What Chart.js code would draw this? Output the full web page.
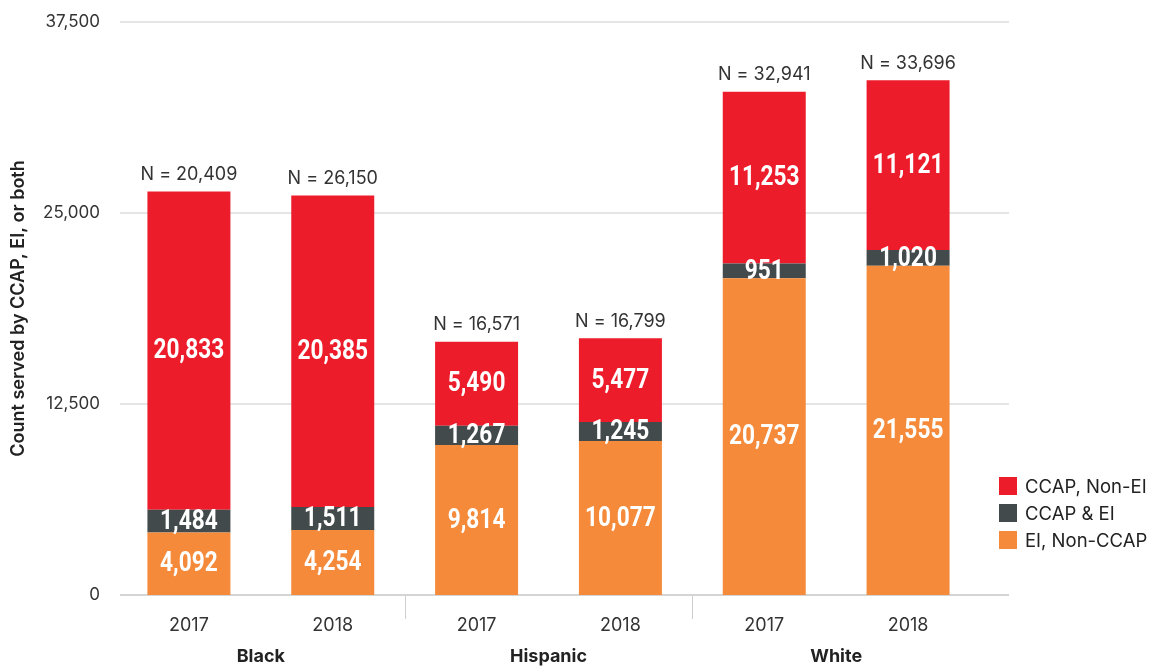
<!DOCTYPE html>
<html>
<head>
<meta charset="utf-8">
<script src="https://cdn.jsdelivr.net/npm/chart.js@4/dist/chart.umd.min.js"></script>
<style>
  html, body { margin: 0; padding: 0; background: #fff; }
  #wrap { position: relative; width: 1158px; height: 667px; }
  #legend { position: absolute; left: 999px; top: 472px; font-family: Inter, "Noto Sans", sans-serif; font-size: 18.5px; color: #222; }
  .li { display: flex; align-items: center; height: 27px; }
  .sw { width: 18px; height: 18px; margin-right: 8px; flex: none; }
</style>
</head>
<body>
<div id="wrap">
  <canvas id="c" width="1158" height="667"></canvas>
  <div id="legend"></div>
</div>
<script>
const categories = ['2017', '2018', '2017', '2018', '2017', '2018'];
const groups = ['Black', 'Hispanic', 'White'];
const eiNonCcap = [4092, 4254, 9814, 10077, 20737, 21555];
const ccapEi = [1484, 1511, 1267, 1245, 951, 1020];
const ccapNonEi = [20833, 20385, 5490, 5477, 11253, 11121];
const nLabels = ['N = 20,409', 'N = 26,150', 'N = 16,571', 'N = 16,799', 'N = 32,941', 'N = 33,696'];
const yTicks = [0, 12500, 25000, 37500];
const seriesNames = ['EI, Non-CCAP', 'CCAP & EI', 'CCAP, Non-EI'];
const seriesColors = ['#F48A3A', '#434A4C', '#ED1C2B'];

const FONT = 'Inter, "Noto Sans", sans-serif';
const COND = 'Roboto, "DejaVu Sans Condensed", sans-serif';
const fmt = v => v.toLocaleString('en-US');

const gridPlugin = {
  id: 'grid',
  beforeDatasetsDraw(chart) {
    const ctx = chart.ctx, y = chart.scales.y, x = chart.scales.x, a = chart.chartArea;
    ctx.save();
    yTicks.forEach(v => {
      const py = y.getPixelForValue(v);
      ctx.beginPath();
      ctx.strokeStyle = v === 0 ? '#d4d4d4' : '#dcdcdc';
      ctx.lineWidth = v === 0 ? 2 : 1.5;
      ctx.moveTo(a.left + 3, py);
      ctx.lineTo(a.right + 29, py);
      ctx.stroke();
    });
    ctx.strokeStyle = '#cfcfcf';
    ctx.lineWidth = 1;
    for (let g = 1; g < groups.length; g++) {
      const px = Math.round((x.getPixelForValue(2 * g - 1) + x.getPixelForValue(2 * g)) / 2) + 0.5;
      ctx.beginPath();
      ctx.moveTo(px, a.bottom + 1);
      ctx.lineTo(px, a.bottom + 24);
      ctx.stroke();
    }
    ctx.restore();
  },
  afterDraw(chart) {
    const ctx = chart.ctx, x = chart.scales.x, a = chart.chartArea;
    ctx.save();
    ctx.textAlign = 'center';
    ctx.textBaseline = 'middle';
    // group labels
    ctx.font = 'bold 18px ' + FONT;
    ctx.fillStyle = '#222';
    groups.forEach((g, i) => {
      const px = (x.getPixelForValue(2 * i) + x.getPixelForValue(2 * i + 1)) / 2;
      ctx.fillText(g, px, a.bottom + 62);
    });
    // value labels (condensed)
    ctx.font = 'bold 27px ' + COND;
    ctx.fillStyle = '#fff';
    const sx = 0.84;
    chart.data.datasets.forEach((ds, di) => {
      const meta = chart.getDatasetMeta(di);
      meta.data.forEach((el, i) => {
        const p = el.getProps(['x', 'y', 'base'], true);
        ctx.save();
        ctx.translate(p.x, (p.y + p.base) / 2 + 1);
        ctx.scale(sx, 1);
        ctx.fillText(fmt(ds.data[i]), 0, 0);
        ctx.restore();
      });
    });
    // N labels
    const top = chart.getDatasetMeta(chart.data.datasets.length - 1);
    ctx.font = '18px ' + FONT;
    ctx.fillStyle = '#333';
    top.data.forEach((el, i) => {
      const p = el.getProps(['x', 'y'], true);
      ctx.fillText(nLabels[i], p.x, p.y - 17);
    });
    ctx.restore();
  }
};

new Chart(document.getElementById('c'), {
  type: 'bar',
  data: {
    labels: categories,
    datasets: [
      { label: seriesNames[0], data: eiNonCcap, backgroundColor: seriesColors[0] },
      { label: seriesNames[1], data: ccapEi, backgroundColor: seriesColors[1] },
      { label: seriesNames[2], data: ccapNonEi, backgroundColor: seriesColors[2] }
    ]
  },
  options: {
    responsive: false,
    animation: false,
    layout: { padding: { top: 22, right: 178, left: 0, bottom: 0 } },
    datasets: { bar: { barPercentage: 0.577, categoryPercentage: 1, borderWidth: 0 } },
    plugins: { legend: { display: false }, tooltip: { enabled: false } },
    scales: {
      x: {
        stacked: true,
        grid: { display: false },
        border: { display: false },
        ticks: { font: { family: FONT, size: 18 }, color: '#333', padding: 12, maxRotation: 0 },
        afterFit(s) { s.height = 72; }
      },
      y: {
        stacked: true,
        min: 0, max: 37500,
        afterBuildTicks(s) { s.ticks = yTicks.map(v => ({ value: v })); },
        grid: { display: false },
        border: { display: false },
        ticks: { font: { family: FONT, size: 17 }, color: '#333', padding: 9, callback: v => fmt(v) },
        title: { display: true, text: 'Count served by CCAP, EI, or both', font: { family: FONT, size: 18, weight: '600' }, color: '#222', padding: { top: 8, bottom: 0 } },
        afterFit(s) { s.width = 117; }
      }
    }
  },
  plugins: [gridPlugin]
});

const lg = document.getElementById('legend');
[2, 1, 0].forEach(i => {
  const d = document.createElement('div');
  d.className = 'li';
  d.innerHTML = '<span class="sw" style="background:' + seriesColors[i] + '"></span><span>' + seriesNames[i] + '</span>';
  lg.appendChild(d);
});
</script>
</body>
</html>
